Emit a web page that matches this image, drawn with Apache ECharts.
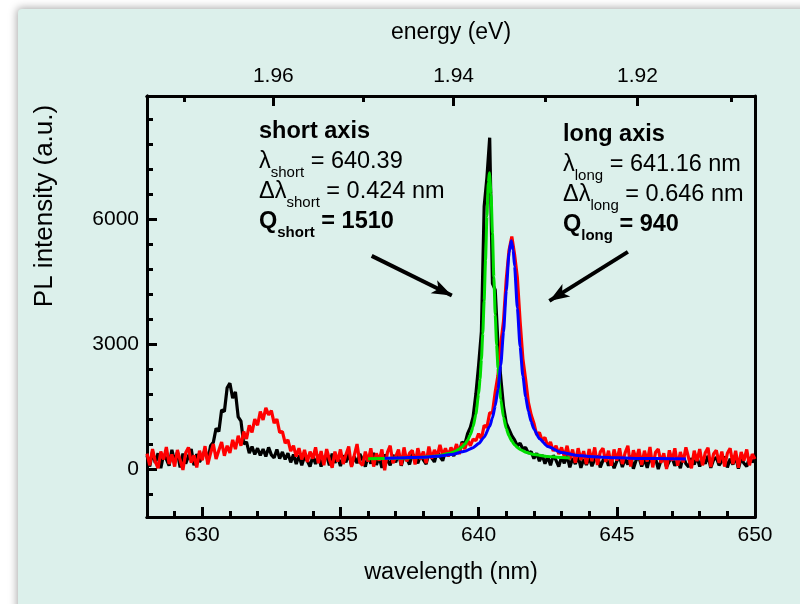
<!DOCTYPE html>
<html>
<head>
<meta charset="utf-8">
<script src="https://cdn.jsdelivr.net/npm/echarts@6/dist/echarts.min.js"></script>
<style>html,body{margin:0;padding:0;background:#fff}#c{width:800px;height:604px}</style>
</head>
<body>
<div id="c"></div>
<script>
// ---- data ----
const wlStart = 628.0, wlStep = 0.1;
const shortAxis = [
 330,60,420,150,380,20,350,240,80,460,
 190,400,40,370,130,310,480,90,360,170,
 280,470,200,560,640,980,900,1420,1380,1950,
 2060,1700,1850,1250,1150,600,650,380,540,350,
 500,330,480,300,520,340,270,470,250,410,
 230,380,160,350,120,330,90,300,200,60,
 310,120,340,60,280,330,90,370,150,290,
 70,330,160,380,80,300,140,360,230,60,
 320,130,390,100,300,30,350,210,90,340,
 160,380,80,310,250,110,370,280,140,330,
 220,120,390,270,170,420,300,200,440,330,
 480,310,520,400,650,600,850,1000,1250,1800,
 2500,3300,6300,7000,7950,4450,4300,3000,2200,1500,
 1100,950,800,700,560,620,480,520,380,420,
 250,380,190,340,130,300,90,330,210,60,
 290,140,320,40,260,120,310,30,240,100,
 280,70,230,320,40,210,300,80,250,20,
 190,300,50,240,110,320,10,220,280,60,
 240,30,300,120,260,0,210,290,50,190,
 280,80,220,20,310,130,50,260,110,290,
 60,240,130,320,30,220,280,90,190,300,
 40,250,110,290,10,260,140,60,280,170,
 230
];
const longAxis = [
 370,90,480,180,20,420,230,530,120,350,
 60,460,210,-20,390,520,150,330,40,440,
 210,550,110,380,600,240,450,650,320,560,
 390,700,480,800,560,900,720,1050,880,1200,
 1050,1380,1180,1470,1300,1400,1100,1200,880,900,
 620,700,430,560,300,500,230,460,170,420,
 250,520,140,430,90,480,230,30,420,180,
 470,120,350,540,50,330,600,160,90,420,
 180,500,60,380,200,470,-30,400,560,140,
 300,470,90,520,180,380,450,110,500,230,
 420,140,540,250,460,310,580,330,500,300,
 520,380,600,360,620,480,700,560,720,680,
 850,720,1050,1000,1350,1350,1850,2250,3000,3550,
 4550,5250,5580,5150,4600,3550,2650,2150,1600,1300,
 1100,820,880,680,760,540,650,430,560,360,
 520,300,560,240,470,150,500,220,430,120,
 480,190,520,100,410,500,170,440,80,470,
 200,500,120,390,560,60,450,230,480,100,
 440,180,530,40,400,480,150,380,0,450,
 200,500,80,410,160,520,260,20,440,190,
 480,90,390,510,50,360,450,150,420,60,
 380,500,120,440,30,410,200,470,90,360,
 240
];
const fitShortX = [636.0,637.0,638.0,638.5,639.0,639.1,639.2,639.3,639.4,639.5,639.6,639.7,639.8,639.9,640.0,640.05,640.1,640.15,640.2,640.25,640.3,640.35,640.39,640.45,640.5,640.55,640.6,640.65,640.7,640.8,640.9,641.0,641.1,641.2,641.3,641.4,641.5,641.7,642.0,642.5,643.0,643.3];
const fitShortY = [246,257,284,315,386,411,442,481,532,600,692,823,1016,1315,1801,2157,2627,3247,4046,5021,6061,6873,7110,6600,5651,4612,3703,2978,2422,1681,1244,971,793,671,584,520,472,406,347,299,275,266];
const fitLongX = [636.6,637.0,638.0,638.5,639.0,639.5,639.8,640.0,640.2,640.4,640.5,640.6,640.7,640.8,640.9,641.0,641.1,641.18,641.25,641.3,641.4,641.5,641.6,641.7,641.8,641.9,642.0,642.2,642.5,643.0,643.5,644.0,645.0,646.0,647.0,647.5];
const fitLongY = [257,263,286,308,348,425,514,611,765,1027,1230,1514,1915,2487,3282,4276,5188,5480,5254,4868,3866,2936,2234,1737,1389,1141,962,728,539,397,334,301,269,254,247,244];
const wlTicks = [630,635,640,645,650];
const wlMinor = [629,631,632,633,634,636,637,638,639,641,642,643,644,646,647,648,649];
const energyTicks = [1.96,1.94,1.92];
const energyMinor = [1.97,1.95,1.93,1.91];
const yTicks = [0,3000,6000];
const yMinor = [-600,600,1200,1800,2400,3600,4200,4800,5400,6600,7200,7800,8400];
const arrowShort = [[636.13,5114],[639.03,4162]];
const arrowLong = [[645.40,5210],[642.56,4034]];

// ---- build ----
const HC = 1239.84;
const toWl = e => HC / e;
const zipXY = (xs, ys) => xs.map((x,i)=>[x, ys[i]]);
const gridXY = ys => ys.map((y,i)=>[+(wlStart + i*wlStep).toFixed(2), y]);
const FONT = 'Liberation Sans';
const XMIN = 628, XMAX = 650, YMIN = -1150, YMAX = 8950;
const BG = '#dcf0eb';

function xAx(pos, tickVals, len, labels, extra) {
  return Object.assign({
    type:'value', position:pos, min:XMIN, max:XMAX,
    axisLine:{show:true, onZero:false, lineStyle:{color:'#000', width:3}},
    axisTick:{show:true, inside:true, length:len, customValues:tickVals, lineStyle:{color:'#000', width:3}},
    axisLabel:{show:labels, customValues:tickVals, color:'#000', fontFamily:FONT, fontSize:21, margin:8, hideOverlap:false},
    splitLine:{show:false}
  }, extra || {});
}
function yAx(pos, tickVals, len, labels) {
  return {
    type:'value', position:pos, min:YMIN, max:YMAX,
    axisLine:{show:true, onZero:false, lineStyle:{color:'#000', width:3}},
    axisTick:{show:tickVals.length>0, inside:true, length:len, customValues:tickVals, lineStyle:{color:'#000', width:3}},
    axisLabel:{show:labels, customValues:tickVals, color:'#000', fontFamily:FONT, fontSize:21, margin:8, formatter:v=>String(v)},
    splitLine:{show:false}
  };
}

const chart = echarts.init(document.getElementById('c'), null, {renderer:'canvas'});
const sub = {fontFamily:FONT, fontSize:15, lineHeight:30, verticalAlign:'bottom'};
const main = {fontFamily:FONT, fontSize:23.5, lineHeight:30, verticalAlign:'top'};
function rich(color){
  return {
    m: Object.assign({}, main, {color}),
    b: Object.assign({}, main, {color, fontWeight:'bold'}),
    s: Object.assign({}, sub, {color}),
    bs: Object.assign({}, sub, {color, fontWeight:'bold'})
  };
}

const topMajor = xAx('top', energyTicks.map(toWl), 10, true, {name:'energy (eV)', nameLocation:'middle', nameGap:52,
       nameTextStyle:{color:'#000', fontFamily:FONT, fontSize:23}});
topMajor.axisLabel.formatter = v => (HC / v).toFixed(2);
topMajor.axisLabel.margin = 9;

chart.setOption({
  animation:false,
  backgroundColor:'#ffffff',
  graphic:[
    {type:'rect', z:-10, shape:{x:18, y:9, width:800, height:610, r:4},
     style:{fill:BG, shadowBlur:8, shadowColor:'rgba(0,0,0,0.35)', shadowOffsetX:-1, shadowOffsetY:-1}},
    {type:'text', x:45, y:206, rotation:Math.PI/2,
     style:{text:'PL intensity (a.u.)', fontFamily:FONT, fontSize:26, fill:'#000', align:'center', verticalAlign:'middle'}},
    {type:'text', x:259, y:120, z:50,
     style:{text:'{b|short axis}\n{m|λ}{s|short}{m| = 640.39}\n{m|Δλ}{s|short}{m| = 0.424 nm}\n{b|Q}{bs|short}{b| = 1510}',
       rich:rich('#000'), align:'left', verticalAlign:'top'}},
    {type:'text', x:563, y:123, z:50,
     style:{text:'{b|long axis}\n{m|λ}{s|long}{m| = 641.16 nm}\n{m|Δλ}{s|long}{m| = 0.646 nm}\n{b|Q}{bs|long}{b| = 940}',
       rich:rich('#ff0000'), align:'left', verticalAlign:'top'}}
  ],
  grid:{left:147, right:45, top:96, bottom:87, containLabel:false},
  xAxis:[
    xAx('bottom', wlTicks, 10, true, {name:'wavelength (nm)', nameLocation:'middle', nameGap:44,
       nameTextStyle:{color:'#000', fontFamily:FONT, fontSize:23.5}}),
    xAx('bottom', wlMinor, 6, false),
    topMajor,
    xAx('top', energyMinor.map(toWl), 6, false)
  ],
  yAxis:[
    yAx('left', yTicks, 10, true),
    yAx('left', yMinor, 6, false),
    yAx('right', [], 0, false)
  ],
  series:[
    {type:'line', name:'short', data:gridXY(shortAxis), showSymbol:false, symbol:'none',
     lineStyle:{color:'#000', width:3.2}, z:2,
     markLine:{silent:true, symbol:['none','arrow'], symbolSize:[11,20], label:{show:false},
       lineStyle:{color:'#000', width:4, type:'solid'},
       emphasis:{disabled:true},
       data:[[{coord:arrowShort[0]},{coord:arrowShort[1]}],[{coord:arrowLong[0]},{coord:arrowLong[1]}]]}},
    {type:'line', name:'long', data:gridXY(longAxis), showSymbol:false, symbol:'none',
     lineStyle:{color:'#ff0000', width:3.2}, z:3},
    {type:'line', name:'fitShort', data:zipXY(fitShortX, fitShortY), showSymbol:false, symbol:'none',
     smooth:0.2, smoothMonotone:'x', lineStyle:{color:'#00dd00', width:3}, z:4},
    {type:'line', name:'fitLong', data:zipXY(fitLongX, fitLongY), showSymbol:false, symbol:'none',
     smooth:0.2, smoothMonotone:'x', lineStyle:{color:'#0000ff', width:3}, z:5}
  ]
});
</script>
</body>
</html>
